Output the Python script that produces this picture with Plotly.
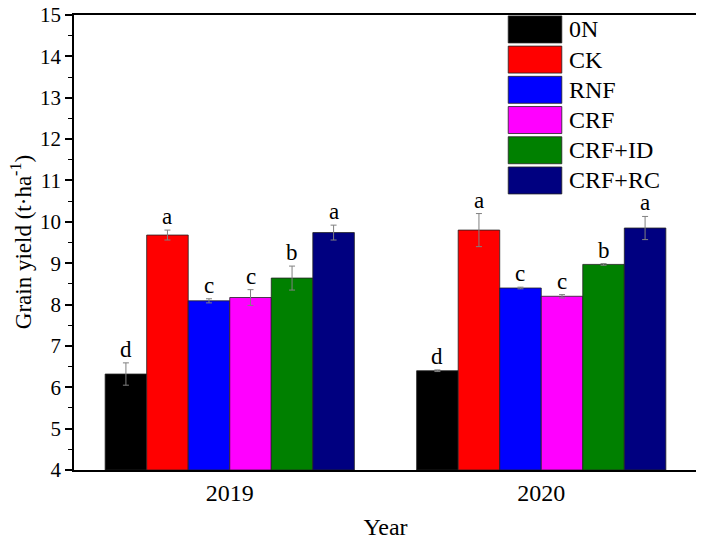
import plotly.graph_objects as go

years = ["2019", "2020"]
treatments = ["0N", "CK", "RNF", "CRF", "CRF+ID", "CRF+RC"]
colors = ["#000000", "#FF0000", "#0000FF", "#FF00FF", "#008000", "#000080"]

# mean yield (t/ha) per treatment, [2019, 2020]
yield_0n = [6.32, 6.40]
yield_ck = [9.68, 9.80]
yield_rnf = [8.09, 8.40]
yield_crf = [8.17, 8.20]
yield_crf_id = [8.64, 8.97]
yield_crf_rc = [9.74, 9.85]

err_0n = [0.27, 0.02]
err_ck = [0.12, 0.40]
err_rnf = [0.05, 0.02]
err_crf = [0.19, 0.04]
err_crf_id = [0.29, 0.02]
err_crf_rc = [0.18, 0.28]

letters_2019 = ["d", "a", "c", "c", "b", "a"]
letters_2020 = ["d", "a", "c", "c", "b", "a"]

means = [yield_0n, yield_ck, yield_rnf, yield_crf, yield_crf_id, yield_crf_rc]
errs = [err_0n, err_ck, err_rnf, err_crf, err_crf_id, err_crf_rc]
letters = [letters_2019, letters_2020]

FONT = "Liberation Serif"
n = len(treatments)
group_w = 0.8
bar_w = group_w / n

fig = go.Figure()
for i, name in enumerate(treatments):
    off = -group_w / 2 + i * bar_w
    fig.add_trace(
        go.Bar(
            x=years,
            y=[m - 4 for m in means[i]],
            base=4,
            name=name,
            width=bar_w,
            offset=off,
            marker=dict(color=colors[i], line=dict(color="#222222", width=0.8)),
            error_y=dict(type="data", array=errs[i], color="#808080", thickness=1, width=3),
            showlegend=False,
        )
    )
    # significance letters above the error bars
    for j, yr in enumerate(years):
        fig.add_annotation(
            x=j + off + bar_w / 2,
            xref="x",
            y=means[i][j] + errs[i][j],
            yref="y",
            text=letters[j][i],
            showarrow=False,
            yanchor="bottom",
            yshift=-1,
            font=dict(family=FONT, size=23, color="black"),
        )

# hand-made legend with large swatches (no border, like the source)
for i, name in enumerate(treatments):
    y_top = 0.998 - i * 0.0664
    fig.add_shape(
        type="rect", xref="paper", yref="paper",
        x0=0.697, x1=0.783, y0=y_top - 0.0593, y1=y_top,
        fillcolor=colors[i], line=dict(color="#222222", width=0.8),
    )
    fig.add_annotation(
        x=0.791, y=y_top - 0.0296, xref="paper", yref="paper",
        text=name, showarrow=False, xanchor="left", yanchor="middle",
        font=dict(family=FONT, size=24, color="black"),
    )

# y-axis title placed by hand so it sits close to the left edge
fig.add_annotation(
    x=-0.084, y=0.5, xref="paper", yref="paper",
    text="Grain yield (t·ha<sup>-1</sup>)", textangle=-90, showarrow=False,
    xanchor="center", yanchor="middle",
    font=dict(family=FONT, size=23, color="black"),
)

fig.update_layout(
    width=704,
    height=542,
    margin=dict(l=66, r=15, t=7, b=80),
    plot_bgcolor="white",
    paper_bgcolor="white",
    barmode="overlay",
    font=dict(family=FONT, size=22, color="black"),
    showlegend=False,
)
fig.update_xaxes(
    type="category",
    range=[-0.5, 1.5],
    automargin=False,
    showline=True, linecolor="black", linewidth=1.5, mirror=True,
    ticks="", showgrid=False,
    tickfont=dict(family=FONT, size=24),
    title=dict(text="Year", font=dict(family=FONT, size=24), standoff=14),
)
fig.update_yaxes(
    range=[4, 15],
    dtick=1,
    automargin=False,
    showline=True, linecolor="black", linewidth=1.5, mirror=True,
    ticks="outside", ticklen=7, tickwidth=1.5, tickcolor="black",
    minor=dict(ticks="outside", ticklen=4, dtick=0.5, tickwidth=1.2, tickcolor="black"),
    showgrid=False, zeroline=False,
    ticklabeloverflow="allow",
    tickfont=dict(family=FONT, size=21),
)

fig.write_html("out.html")
